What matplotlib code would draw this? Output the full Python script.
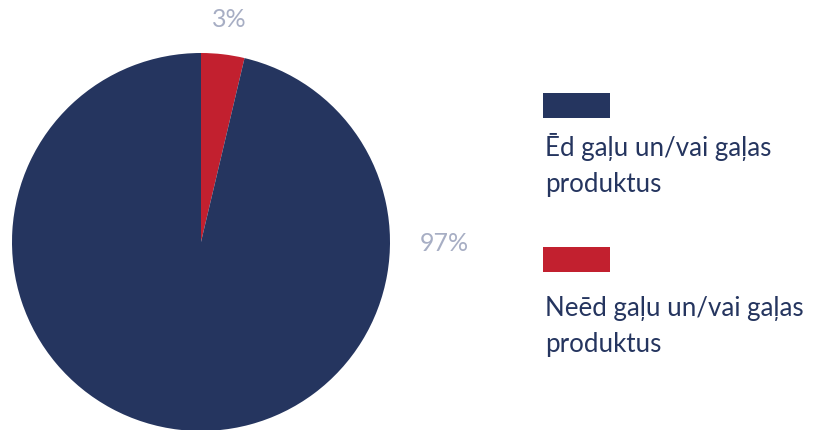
import matplotlib
matplotlib.use("Agg")
import matplotlib.pyplot as plt
from matplotlib.patches import Rectangle

legend_labels = [["Ēd gaļu un/vai gaļas", "produktus"],
                 ["Neēd gaļu un/vai gaļas", "produktus"]]
values = [3.7, 96.3]          # red (does not eat), blue (eats)
pct_labels = ["3%", "97%"]
colors = ["#c2202f", "#25355f"]
legend_colors = ["#25355f", "#c2202f"]

W, H = 813, 430
fig = plt.figure(figsize=(W / 100, H / 100), dpi=100)
fig.patch.set_facecolor("white")

cx, cy, r = 201, 242, 189
ax = fig.add_axes([(cx - r) / W, (H - cy - r) / H, 2 * r / W, 2 * r / H])
ax.pie(values, colors=colors, startangle=90, counterclock=False,
       radius=1.0, wedgeprops=dict(linewidth=0))
ax.set_xlim(-1, 1)
ax.set_ylim(-1, 1)
ax.set_aspect("equal")
ax.axis("off")

label_color = "#a7aec4"
font = "Lato"
ax.text(0.15, 1.175, pct_labels[0], ha="center", va="center",
        fontsize=18, color=label_color, family=font)
ax.text(1.29, -0.01, pct_labels[1], ha="center", va="center",
        fontsize=18, color=label_color, family=font)

# legend
text_color = "#25355f"
patch_tops = [93, 247]
text_baselines = [(156, 192), (316, 352)]
for top, bases, lines, col in zip(patch_tops, text_baselines, legend_labels, legend_colors):
    fig.patches.append(Rectangle((543 / W, (H - top - 25) / H), 67 / W, 25 / H,
                                 transform=fig.transFigure, facecolor=col,
                                 edgecolor="none"))
    for base, line in zip(bases, lines):
        fig.text(545 / W, (H - base) / H, line, ha="left", va="baseline",
                 fontsize=18.6, color=text_color, family=font)

fig.savefig("out.png", dpi=100)
